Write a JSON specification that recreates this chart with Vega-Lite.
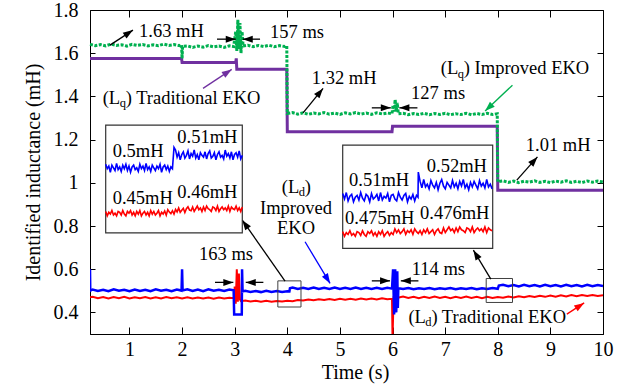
{
  "$schema": "https://vega.github.io/schema/vega-lite/v6.json",
  "width": 513,
  "height": 324,
  "autosize": {"type": "none"},
  "padding": {"left": 90, "top": 10, "right": 18, "bottom": 52},
  "background": "white",
  "config": {
    "font": "Liberation Serif",
    "view": {"stroke": "black", "strokeWidth": 1},
    "axis": {"grid": false}
  },
  "datasets": {
    "lqImp": [{"t":0.25,"v":1.641},{"t":0.35,"v":1.635},{"t":0.45,"v":1.64},{"t":0.55,"v":1.634},{"t":0.65,"v":1.642},{"t":0.75,"v":1.636},{"t":0.85,"v":1.639},{"t":0.95,"v":1.633},{"t":1.05,"v":1.641},{"t":1.15,"v":1.636},{"t":1.25,"v":1.64},{"t":1.35,"v":1.634},{"t":1.45,"v":1.639},{"t":1.55,"v":1.635},{"t":1.65,"v":1.642},{"t":1.75,"v":1.636},{"t":1.85,"v":1.64},{"t":1.95,"v":1.635},{"t":1.99,"v":1.639},{"t":2.0,"v":1.575},{"t":2.01,"v":1.632},{"t":2.1,"v":1.634},{"t":2.2,"v":1.627},{"t":2.3,"v":1.633},{"t":2.4,"v":1.628},{"t":2.5,"v":1.635},{"t":2.6,"v":1.629},{"t":2.7,"v":1.633},{"t":2.8,"v":1.627},{"t":2.9,"v":1.634},{"t":2.98,"v":1.631},{"t":3.02,"v":1.7},{"t":3.04,"v":1.61},{"t":3.06,"v":1.755},{"t":3.08,"v":1.62},{"t":3.1,"v":1.74},{"t":3.12,"v":1.6},{"t":3.14,"v":1.7},{"t":3.16,"v":1.633},{"t":3.25,"v":1.637},{"t":3.35,"v":1.63},{"t":3.45,"v":1.636},{"t":3.55,"v":1.631},{"t":3.65,"v":1.637},{"t":3.75,"v":1.63},{"t":3.85,"v":1.635},{"t":3.95,"v":1.631},{"t":3.99,"v":1.634},{"t":4.0,"v":1.321},{"t":4.1,"v":1.325},{"t":4.2,"v":1.318},{"t":4.3,"v":1.324},{"t":4.4,"v":1.317},{"t":4.5,"v":1.323},{"t":4.6,"v":1.319},{"t":4.7,"v":1.325},{"t":4.8,"v":1.318},{"t":4.9,"v":1.323},{"t":5.0,"v":1.317},{"t":5.1,"v":1.324},{"t":5.2,"v":1.319},{"t":5.3,"v":1.325},{"t":5.4,"v":1.318},{"t":5.5,"v":1.323},{"t":5.6,"v":1.317},{"t":5.7,"v":1.324},{"t":5.8,"v":1.319},{"t":5.9,"v":1.323},{"t":5.99,"v":1.32},{"t":6.01,"v":1.36},{"t":6.03,"v":1.33},{"t":6.05,"v":1.385},{"t":6.07,"v":1.33},{"t":6.09,"v":1.37},{"t":6.11,"v":1.32},{"t":6.2,"v":1.322},{"t":6.3,"v":1.315},{"t":6.4,"v":1.321},{"t":6.5,"v":1.316},{"t":6.6,"v":1.322},{"t":6.7,"v":1.315},{"t":6.8,"v":1.321},{"t":6.9,"v":1.316},{"t":7.0,"v":1.322},{"t":7.1,"v":1.315},{"t":7.2,"v":1.32},{"t":7.3,"v":1.316},{"t":7.4,"v":1.322},{"t":7.5,"v":1.315},{"t":7.6,"v":1.321},{"t":7.7,"v":1.316},{"t":7.8,"v":1.322},{"t":7.9,"v":1.316},{"t":7.99,"v":1.32},{"t":8.0,"v":1.005},{"t":8.1,"v":1.009},{"t":8.2,"v":1.002},{"t":8.3,"v":1.008},{"t":8.4,"v":1.001},{"t":8.5,"v":1.007},{"t":8.6,"v":1.003},{"t":8.7,"v":1.009},{"t":8.8,"v":1.002},{"t":8.9,"v":1.007},{"t":9.0,"v":1.001},{"t":9.1,"v":1.008},{"t":9.2,"v":1.003},{"t":9.3,"v":1.009},{"t":9.4,"v":1.002},{"t":9.5,"v":1.007},{"t":9.6,"v":1.001},{"t":9.7,"v":1.008},{"t":9.8,"v":1.003},{"t":9.9,"v":1.008},{"t":10.0,"v":1.004}],
    "lqTrad": [{"t":0.25,"v":1.576},{"t":1.99,"v":1.576},{"t":2.0,"v":1.557},{"t":3.02,"v":1.557},{"t":3.03,"v":1.576},{"t":3.04,"v":1.526},{"t":3.99,"v":1.526},{"t":4.0,"v":1.236},{"t":5.99,"v":1.236},{"t":6.0,"v":1.262},{"t":7.99,"v":1.262},{"t":8.0,"v":0.966},{"t":10.0,"v":0.966}],
    "ldImp": [{"t":0.25,"v":0.6},{"t":0.255,"v":0.5},{"t":0.3,"v":0.506},{"t":0.4,"v":0.499},{"t":0.5,"v":0.505},{"t":0.6,"v":0.498},{"t":0.7,"v":0.507},{"t":0.8,"v":0.5},{"t":0.9,"v":0.505},{"t":1.0,"v":0.498},{"t":1.1,"v":0.506},{"t":1.2,"v":0.499},{"t":1.3,"v":0.505},{"t":1.4,"v":0.498},{"t":1.5,"v":0.507},{"t":1.6,"v":0.5},{"t":1.7,"v":0.505},{"t":1.8,"v":0.498},{"t":1.9,"v":0.506},{"t":1.99,"v":0.501},{"t":2.0,"v":0.6},{"t":2.01,"v":0.502},{"t":2.1,"v":0.507},{"t":2.2,"v":0.499},{"t":2.3,"v":0.506},{"t":2.4,"v":0.498},{"t":2.5,"v":0.507},{"t":2.6,"v":0.5},{"t":2.7,"v":0.505},{"t":2.8,"v":0.499},{"t":2.9,"v":0.506},{"t":2.98,"v":0.502},{"t":2.99,"v":0.39},{"t":3.135,"v":0.39},{"t":3.14,"v":0.6},{"t":3.15,"v":0.497},{"t":3.2,"v":0.5},{"t":3.3,"v":0.495},{"t":3.4,"v":0.499},{"t":3.5,"v":0.494},{"t":3.6,"v":0.5},{"t":3.7,"v":0.495},{"t":3.8,"v":0.499},{"t":3.9,"v":0.495},{"t":4.0,"v":0.498},{"t":4.04,"v":0.497},{"t":4.05,"v":0.512},{"t":4.1,"v":0.515},{"t":4.2,"v":0.508},{"t":4.3,"v":0.514},{"t":4.4,"v":0.509},{"t":4.5,"v":0.515},{"t":4.6,"v":0.508},{"t":4.7,"v":0.514},{"t":4.8,"v":0.509},{"t":4.9,"v":0.515},{"t":5.0,"v":0.508},{"t":5.1,"v":0.514},{"t":5.2,"v":0.509},{"t":5.3,"v":0.515},{"t":5.4,"v":0.508},{"t":5.5,"v":0.514},{"t":5.6,"v":0.509},{"t":5.7,"v":0.514},{"t":5.8,"v":0.508},{"t":5.9,"v":0.514},{"t":5.99,"v":0.51},{"t":6.01,"v":0.6},{"t":6.03,"v":0.39},{"t":6.05,"v":0.6},{"t":6.07,"v":0.4},{"t":6.09,"v":0.59},{"t":6.1,"v":0.42},{"t":6.11,"v":0.512},{"t":6.2,"v":0.508},{"t":6.3,"v":0.513},{"t":6.4,"v":0.507},{"t":6.5,"v":0.512},{"t":6.6,"v":0.508},{"t":6.7,"v":0.513},{"t":6.8,"v":0.507},{"t":6.9,"v":0.512},{"t":7.0,"v":0.508},{"t":7.1,"v":0.513},{"t":7.2,"v":0.507},{"t":7.3,"v":0.512},{"t":7.4,"v":0.508},{"t":7.5,"v":0.513},{"t":7.6,"v":0.507},{"t":7.7,"v":0.512},{"t":7.8,"v":0.508},{"t":7.9,"v":0.513},{"t":8.0,"v":0.509},{"t":8.02,"v":0.524},{"t":8.1,"v":0.528},{"t":8.2,"v":0.521},{"t":8.3,"v":0.527},{"t":8.4,"v":0.52},{"t":8.5,"v":0.528},{"t":8.6,"v":0.521},{"t":8.7,"v":0.527},{"t":8.8,"v":0.52},{"t":8.9,"v":0.528},{"t":9.0,"v":0.521},{"t":9.1,"v":0.527},{"t":9.2,"v":0.52},{"t":9.3,"v":0.528},{"t":9.4,"v":0.521},{"t":9.5,"v":0.527},{"t":9.6,"v":0.52},{"t":9.7,"v":0.528},{"t":9.8,"v":0.521},{"t":9.9,"v":0.527},{"t":10.0,"v":0.522}],
    "ldTrad": [{"t":0.25,"v":0.47},{"t":0.3,"v":0.472},{"t":0.4,"v":0.466},{"t":0.5,"v":0.471},{"t":0.6,"v":0.465},{"t":0.7,"v":0.471},{"t":0.8,"v":0.466},{"t":0.9,"v":0.472},{"t":1.0,"v":0.465},{"t":1.1,"v":0.47},{"t":1.2,"v":0.466},{"t":1.3,"v":0.471},{"t":1.4,"v":0.465},{"t":1.5,"v":0.47},{"t":1.6,"v":0.465},{"t":1.7,"v":0.471},{"t":1.8,"v":0.466},{"t":1.9,"v":0.47},{"t":2.0,"v":0.465},{"t":2.1,"v":0.47},{"t":2.2,"v":0.464},{"t":2.3,"v":0.469},{"t":2.4,"v":0.464},{"t":2.5,"v":0.469},{"t":2.6,"v":0.463},{"t":2.7,"v":0.469},{"t":2.8,"v":0.464},{"t":2.9,"v":0.468},{"t":2.99,"v":0.466},{"t":3.0,"v":0.52},{"t":3.02,"v":0.44},{"t":3.04,"v":0.6},{"t":3.06,"v":0.45},{"t":3.08,"v":0.58},{"t":3.1,"v":0.46},{"t":3.12,"v":0.452},{"t":3.2,"v":0.455},{"t":3.3,"v":0.45},{"t":3.4,"v":0.454},{"t":3.5,"v":0.449},{"t":3.6,"v":0.454},{"t":3.7,"v":0.449},{"t":3.8,"v":0.453},{"t":3.9,"v":0.45},{"t":4.0,"v":0.454},{"t":4.1,"v":0.452},{"t":4.2,"v":0.457},{"t":4.3,"v":0.455},{"t":4.4,"v":0.46},{"t":4.5,"v":0.456},{"t":4.6,"v":0.461},{"t":4.7,"v":0.457},{"t":4.8,"v":0.462},{"t":4.9,"v":0.458},{"t":5.0,"v":0.463},{"t":5.1,"v":0.459},{"t":5.2,"v":0.463},{"t":5.3,"v":0.459},{"t":5.4,"v":0.464},{"t":5.5,"v":0.46},{"t":5.6,"v":0.464},{"t":5.7,"v":0.46},{"t":5.8,"v":0.465},{"t":5.9,"v":0.461},{"t":5.99,"v":0.463},{"t":6.0,"v":0.28},{"t":6.02,"v":0.47},{"t":6.1,"v":0.468},{"t":6.2,"v":0.473},{"t":6.3,"v":0.467},{"t":6.4,"v":0.472},{"t":6.5,"v":0.466},{"t":6.6,"v":0.472},{"t":6.7,"v":0.467},{"t":6.8,"v":0.473},{"t":6.9,"v":0.467},{"t":7.0,"v":0.472},{"t":7.1,"v":0.466},{"t":7.2,"v":0.472},{"t":7.3,"v":0.467},{"t":7.4,"v":0.473},{"t":7.5,"v":0.467},{"t":7.6,"v":0.472},{"t":7.7,"v":0.466},{"t":7.8,"v":0.472},{"t":7.9,"v":0.467},{"t":8.0,"v":0.471},{"t":8.1,"v":0.468},{"t":8.2,"v":0.474},{"t":8.3,"v":0.469},{"t":8.4,"v":0.475},{"t":8.5,"v":0.47},{"t":8.6,"v":0.476},{"t":8.7,"v":0.471},{"t":8.8,"v":0.477},{"t":8.9,"v":0.472},{"t":9.0,"v":0.478},{"t":9.1,"v":0.473},{"t":9.2,"v":0.479},{"t":9.3,"v":0.474},{"t":9.4,"v":0.48},{"t":9.5,"v":0.475},{"t":9.6,"v":0.48},{"t":9.7,"v":0.476},{"t":9.8,"v":0.481},{"t":9.9,"v":0.476},{"t":10.0,"v":0.48}],
    "in1Blue": [{"t":3.82,"v":0.502},{"t":3.825,"v":0.497},{"t":3.83,"v":0.5},{"t":3.835,"v":0.493},{"t":3.84,"v":0.501},{"t":3.845,"v":0.498},{"t":3.85,"v":0.495},{"t":3.855,"v":0.503},{"t":3.86,"v":0.496},{"t":3.865,"v":0.499},{"t":3.87,"v":0.494},{"t":3.875,"v":0.501},{"t":3.88,"v":0.497},{"t":3.885,"v":0.502},{"t":3.89,"v":0.495},{"t":3.895,"v":0.5},{"t":3.9,"v":0.493},{"t":3.905,"v":0.499},{"t":3.91,"v":0.501},{"t":3.915,"v":0.496},{"t":3.92,"v":0.498},{"t":3.925,"v":0.494},{"t":3.93,"v":0.502},{"t":3.935,"v":0.497},{"t":3.94,"v":0.5},{"t":3.945,"v":0.495},{"t":3.95,"v":0.503},{"t":3.955,"v":0.496},{"t":3.96,"v":0.499},{"t":3.965,"v":0.494},{"t":3.97,"v":0.501},{"t":3.975,"v":0.498},{"t":3.98,"v":0.495},{"t":3.985,"v":0.5},{"t":3.99,"v":0.497},{"t":3.995,"v":0.502},{"t":4.0,"v":0.493},{"t":4.005,"v":0.499},{"t":4.01,"v":0.501},{"t":4.015,"v":0.496},{"t":4.02,"v":0.5},{"t":4.025,"v":0.494},{"t":4.03,"v":0.499},{"t":4.035,"v":0.497},{"t":4.04,"v":0.521},{"t":4.045,"v":0.518},{"t":4.05,"v":0.51},{"t":4.055,"v":0.515},{"t":4.06,"v":0.507},{"t":4.065,"v":0.513},{"t":4.07,"v":0.516},{"t":4.075,"v":0.509},{"t":4.08,"v":0.512},{"t":4.085,"v":0.517},{"t":4.09,"v":0.508},{"t":4.095,"v":0.514},{"t":4.1,"v":0.511},{"t":4.105,"v":0.518},{"t":4.11,"v":0.509},{"t":4.115,"v":0.513},{"t":4.12,"v":0.507},{"t":4.125,"v":0.515},{"t":4.13,"v":0.512},{"t":4.135,"v":0.51},{"t":4.14,"v":0.516},{"t":4.145,"v":0.508},{"t":4.15,"v":0.514},{"t":4.155,"v":0.517},{"t":4.16,"v":0.509},{"t":4.165,"v":0.511},{"t":4.17,"v":0.515},{"t":4.175,"v":0.507},{"t":4.18,"v":0.513},{"t":4.185,"v":0.516},{"t":4.19,"v":0.51},{"t":4.195,"v":0.512},{"t":4.2,"v":0.508},{"t":4.205,"v":0.518},{"t":4.21,"v":0.511},{"t":4.215,"v":0.514},{"t":4.22,"v":0.509},{"t":4.225,"v":0.516},{"t":4.23,"v":0.507},{"t":4.235,"v":0.513},{"t":4.24,"v":0.515},{"t":4.245,"v":0.51},{"t":4.25,"v":0.517},{"t":4.255,"v":0.508},{"t":4.26,"v":0.512}],
    "in1Red": [{"t":3.82,"v":0.449},{"t":3.825,"v":0.444},{"t":3.83,"v":0.448},{"t":3.835,"v":0.446},{"t":3.84,"v":0.45},{"t":3.845,"v":0.445},{"t":3.85,"v":0.447},{"t":3.855,"v":0.444},{"t":3.86,"v":0.449},{"t":3.865,"v":0.448},{"t":3.87,"v":0.445},{"t":3.875,"v":0.45},{"t":3.88,"v":0.446},{"t":3.885,"v":0.444},{"t":3.89,"v":0.449},{"t":3.895,"v":0.447},{"t":3.9,"v":0.45},{"t":3.905,"v":0.445},{"t":3.91,"v":0.448},{"t":3.915,"v":0.444},{"t":3.92,"v":0.449},{"t":3.925,"v":0.446},{"t":3.93,"v":0.45},{"t":3.935,"v":0.444},{"t":3.94,"v":0.447},{"t":3.945,"v":0.449},{"t":3.95,"v":0.445},{"t":3.955,"v":0.448},{"t":3.96,"v":0.444},{"t":3.965,"v":0.45},{"t":3.97,"v":0.446},{"t":3.975,"v":0.449},{"t":3.98,"v":0.445},{"t":3.985,"v":0.447},{"t":3.99,"v":0.45},{"t":3.995,"v":0.444},{"t":4.0,"v":0.448},{"t":4.005,"v":0.446},{"t":4.01,"v":0.4495},{"t":4.015,"v":0.4448},{"t":4.02,"v":0.451},{"t":4.025,"v":0.4483},{"t":4.03,"v":0.4465},{"t":4.035,"v":0.4498},{"t":4.04,"v":0.446},{"t":4.045,"v":0.4513},{"t":4.05,"v":0.4485},{"t":4.055,"v":0.4528},{"t":4.06,"v":0.448},{"t":4.065,"v":0.4503},{"t":4.07,"v":0.4525},{"t":4.075,"v":0.4478},{"t":4.08,"v":0.452},{"t":4.085,"v":0.4543},{"t":4.09,"v":0.4505},{"t":4.095,"v":0.4498},{"t":4.1,"v":0.454},{"t":4.105,"v":0.449},{"t":4.11,"v":0.452},{"t":4.115,"v":0.455},{"t":4.12,"v":0.451},{"t":4.125,"v":0.453},{"t":4.13,"v":0.449},{"t":4.135,"v":0.454},{"t":4.14,"v":0.45},{"t":4.145,"v":0.455},{"t":4.15,"v":0.452},{"t":4.155,"v":0.451},{"t":4.16,"v":0.449},{"t":4.165,"v":0.454},{"t":4.17,"v":0.453},{"t":4.175,"v":0.45},{"t":4.18,"v":0.455},{"t":4.185,"v":0.449},{"t":4.19,"v":0.452},{"t":4.195,"v":0.454},{"t":4.2,"v":0.451},{"t":4.205,"v":0.453},{"t":4.21,"v":0.45},{"t":4.215,"v":0.455},{"t":4.22,"v":0.449},{"t":4.225,"v":0.454},{"t":4.23,"v":0.452},{"t":4.235,"v":0.451},{"t":4.24,"v":0.455},{"t":4.245,"v":0.45},{"t":4.25,"v":0.453},{"t":4.255,"v":0.449},{"t":4.26,"v":0.454}],
    "in2Blue": [{"t":7.78,"v":0.505},{"t":7.786,"v":0.499},{"t":7.792,"v":0.506},{"t":7.798,"v":0.497},{"t":7.804,"v":0.502},{"t":7.81,"v":0.504},{"t":7.816,"v":0.496},{"t":7.822,"v":0.501},{"t":7.828,"v":0.503},{"t":7.834,"v":0.498},{"t":7.84,"v":0.506},{"t":7.846,"v":0.5},{"t":7.852,"v":0.497},{"t":7.858,"v":0.504},{"t":7.864,"v":0.502},{"t":7.87,"v":0.496},{"t":7.876,"v":0.505},{"t":7.882,"v":0.499},{"t":7.888,"v":0.501},{"t":7.894,"v":0.504},{"t":7.9,"v":0.497},{"t":7.906,"v":0.506},{"t":7.912,"v":0.498},{"t":7.918,"v":0.502},{"t":7.924,"v":0.5},{"t":7.93,"v":0.505},{"t":7.936,"v":0.496},{"t":7.942,"v":0.503},{"t":7.948,"v":0.504},{"t":7.954,"v":0.499},{"t":7.96,"v":0.497},{"t":7.966,"v":0.506},{"t":7.972,"v":0.501},{"t":7.978,"v":0.498},{"t":7.984,"v":0.503},{"t":7.99,"v":0.505},{"t":7.996,"v":0.496},{"t":8.002,"v":0.502},{"t":8.008,"v":0.499},{"t":8.014,"v":0.504},{"t":8.02,"v":0.497},{"t":8.026,"v":0.503},{"t":8.031,"v":0.501},{"t":8.032,"v":0.528},{"t":8.038,"v":0.518},{"t":8.044,"v":0.511},{"t":8.05,"v":0.52},{"t":8.056,"v":0.512},{"t":8.062,"v":0.515},{"t":8.068,"v":0.51},{"t":8.074,"v":0.519},{"t":8.08,"v":0.514},{"t":8.086,"v":0.511},{"t":8.092,"v":0.517},{"t":8.098,"v":0.509},{"t":8.104,"v":0.516},{"t":8.11,"v":0.52},{"t":8.116,"v":0.513},{"t":8.122,"v":0.51},{"t":8.128,"v":0.517},{"t":8.134,"v":0.514},{"t":8.14,"v":0.511},{"t":8.146,"v":0.519},{"t":8.152,"v":0.512},{"t":8.158,"v":0.516},{"t":8.164,"v":0.51},{"t":8.17,"v":0.518},{"t":8.176,"v":0.513},{"t":8.182,"v":0.52},{"t":8.188,"v":0.511},{"t":8.194,"v":0.515},{"t":8.2,"v":0.509},{"t":8.206,"v":0.517},{"t":8.212,"v":0.512},{"t":8.218,"v":0.518},{"t":8.224,"v":0.514},{"t":8.23,"v":0.51},{"t":8.236,"v":0.519},{"t":8.242,"v":0.513},{"t":8.248,"v":0.516},{"t":8.254,"v":0.511},{"t":8.26,"v":0.52},{"t":8.266,"v":0.512},{"t":8.272,"v":0.515},{"t":8.278,"v":0.51}],
    "in2Red": [{"t":7.78,"v":0.464},{"t":7.786,"v":0.459},{"t":7.792,"v":0.463},{"t":7.798,"v":0.461},{"t":7.804,"v":0.465},{"t":7.81,"v":0.46},{"t":7.816,"v":0.462},{"t":7.822,"v":0.459},{"t":7.828,"v":0.464},{"t":7.834,"v":0.463},{"t":7.84,"v":0.46},{"t":7.846,"v":0.465},{"t":7.852,"v":0.461},{"t":7.858,"v":0.459},{"t":7.864,"v":0.464},{"t":7.87,"v":0.462},{"t":7.876,"v":0.465},{"t":7.882,"v":0.46},{"t":7.888,"v":0.463},{"t":7.894,"v":0.459},{"t":7.9,"v":0.464},{"t":7.906,"v":0.461},{"t":7.912,"v":0.465},{"t":7.918,"v":0.459},{"t":7.924,"v":0.462},{"t":7.93,"v":0.464},{"t":7.936,"v":0.46},{"t":7.942,"v":0.463},{"t":7.948,"v":0.461},{"t":7.954,"v":0.467},{"t":7.96,"v":0.463},{"t":7.966,"v":0.466},{"t":7.972,"v":0.462},{"t":7.978,"v":0.464},{"t":7.984,"v":0.467},{"t":7.99,"v":0.461},{"t":7.996,"v":0.465},{"t":8.002,"v":0.463},{"t":8.008,"v":0.466},{"t":8.014,"v":0.461},{"t":8.02,"v":0.467},{"t":8.026,"v":0.464},{"t":8.032,"v":0.462},{"t":8.038,"v":0.465},{"t":8.044,"v":0.461},{"t":8.05,"v":0.466},{"t":8.056,"v":0.463},{"t":8.062,"v":0.467},{"t":8.068,"v":0.462},{"t":8.074,"v":0.464},{"t":8.08,"v":0.466},{"t":8.086,"v":0.461},{"t":8.092,"v":0.465},{"t":8.098,"v":0.467},{"t":8.104,"v":0.463},{"t":8.11,"v":0.462},{"t":8.116,"v":0.468},{"t":8.122,"v":0.463},{"t":8.128,"v":0.466},{"t":8.134,"v":0.469},{"t":8.14,"v":0.465},{"t":8.146,"v":0.467},{"t":8.152,"v":0.463},{"t":8.158,"v":0.468},{"t":8.164,"v":0.464},{"t":8.17,"v":0.469},{"t":8.176,"v":0.466},{"t":8.182,"v":0.465},{"t":8.188,"v":0.463},{"t":8.194,"v":0.468},{"t":8.2,"v":0.467},{"t":8.206,"v":0.464},{"t":8.212,"v":0.469},{"t":8.218,"v":0.463},{"t":8.224,"v":0.466},{"t":8.23,"v":0.468},{"t":8.236,"v":0.465},{"t":8.242,"v":0.467},{"t":8.248,"v":0.464},{"t":8.254,"v":0.469},{"t":8.26,"v":0.463},{"t":8.266,"v":0.468},{"t":8.272,"v":0.466},{"t":8.278,"v":0.465}],
    "boxes": [{"t":3.82,"t2":4.26,"v":0.425,"v2":0.546},{"t":7.78,"t2":8.28,"v":0.446,"v2":0.557}],
    "arrows": [
      {"t":0.63,"v":1.6375,"t2":1.067,"v2":1.707,"c":"k"},
      {"t":2.664,"v":1.665,"t2":3.02,"v2":1.665,"c":"k"},
      {"t":3.482,"v":1.665,"t2":3.153,"v2":1.665,"c":"k"},
      {"t":2.398,"v":1.437,"t2":2.944,"v2":1.525,"c":"p"},
      {"t":4.299,"v":1.324,"t2":4.68,"v2":1.437,"c":"k"},
      {"t":5.606,"v":1.347,"t2":5.967,"v2":1.347,"c":"k"},
      {"t":6.473,"v":1.347,"t2":6.13,"v2":1.347,"c":"k"},
      {"t":8.279,"v":1.452,"t2":7.759,"v2":1.332,"c":"g"},
      {"t":8.362,"v":1.0125,"t2":8.754,"v2":1.12,"c":"k"},
      {"t":4.337,"v":0.727,"t2":4.813,"v2":0.534,"c":"b"},
      {"t":3.957,"v":0.545,"t2":3.145,"v2":0.827,"c":"k"},
      {"t":2.626,"v":0.539,"t2":2.974,"v2":0.539,"c":"k"},
      {"t":3.545,"v":0.539,"t2":3.21,"v2":0.539,"c":"k"},
      {"t":5.606,"v":0.546,"t2":5.953,"v2":0.546,"c":"k"},
      {"t":6.492,"v":0.546,"t2":6.157,"v2":0.546,"c":"k"},
      {"t":7.868,"v":0.554,"t2":7.537,"v2":0.688,"c":"k"},
      {"t":9.313,"v":0.392,"t2":9.642,"v2":0.444,"c":"r"}
    ],
    "labels": [
      {"t":1.182,"v":1.704,"label":"1.63 mH"},
      {"t":3.672,"v":1.699,"label":"157 ms"},
      {"t":0.491,"v":1.391,"label":"(L"},
      {"t":0.929,"v":1.391,"label":") Traditional EKO"},
      {"t":4.465,"v":1.483,"label":"1.32 mH"},
      {"t":6.353,"v":1.414,"label":"127 ms"},
      {"t":6.917,"v":1.53,"label":"(L"},
      {"t":7.355,"v":1.53,"label":") Improved EKO"},
      {"t":8.533,"v":1.175,"label":"1.01 mH"},
      {"t":0.682,"v":1.147,"label":"0.5mH"},
      {"t":1.91,"v":1.213,"label":"0.51mH"},
      {"t":0.682,"v":0.931,"label":"0.45mH"},
      {"t":1.91,"v":0.956,"label":"0.46mH"},
      {"t":5.174,"v":1.0125,"label":"0.51mH"},
      {"t":6.651,"v":1.077,"label":"0.52mH"},
      {"t":5.098,"v":0.835,"label":"0.475mH"},
      {"t":6.524,"v":0.858,"label":"0.476mH"},
      {"t":3.895,"v":0.9815,"label":"(L"},
      {"t":4.332,"v":0.9815,"label":")"},
      {"t":2.322,"v":0.67,"label":"163 ms"},
      {"t":6.366,"v":0.599,"label":"114 ms"},
      {"t":6.301,"v":0.377,"label":"(L"},
      {"t":6.739,"v":0.377,"label":") Traditional EKO"}
    ],
    "labelsCentered": [
      {"t":4.166,"v":0.8815,"label":"Improved"},
      {"t":4.166,"v":0.789,"label":"EKO"}
    ],
    "subscripts": [
      {"t":0.815,"v":1.368,"label":"q"},
      {"t":7.24,"v":1.506,"label":"q"},
      {"t":4.218,"v":0.958,"label":"d"},
      {"t":6.624,"v":0.354,"label":"d"}
    ]
  },
  "layer": [
    {
      "encoding": {
        "x": {"field": "t", "type": "quantitative", "scale": {"domain": [0.25, 10], "nice": false, "zero": false},
              "axis": {"values": [1,2,3,4,5,6,7,8,9,10], "title": "Time (s)", "tickSize": -7, "labelPadding": 12, "titlePadding": 3, "titleX": 265, "labelFlush": false,
                       "labelFont": "Liberation Serif", "labelFontSize": 20, "labelColor": "black", "titleFont": "Liberation Serif", "titleFontSize": 20, "titleFontWeight": "normal", "titleColor": "black", "domainColor": "black", "tickColor": "black", "grid": false}},
        "y": {"field": "v", "type": "quantitative", "scale": {"domain": [0.3, 1.8], "nice": false, "zero": false},
              "axis": {"values": [0.4,0.6,0.8,1,1.2,1.4,1.6,1.8], "format": "~g", "title": "Identified inductance (mH)", "tickSize": -5, "labelPadding": 17, "titlePadding": 10,
                       "labelFont": "Liberation Serif", "labelFontSize": 20, "labelColor": "black", "titleFont": "Liberation Serif", "titleFontSize": 20, "titleFontWeight": "normal", "titleColor": "black", "domainColor": "black", "tickColor": "black", "grid": false}}
      },
      "layer": [
        {"data": {"name": "lqTrad"}, "mark": {"type": "line", "color": "#7030a0", "strokeWidth": 3}},
        {"data": {"name": "lqImp"}, "mark": {"type": "line", "color": "#00b050", "strokeWidth": 3, "strokeDash": [3, 1.5]}},
        {"data": {"name": "ldTrad"}, "mark": {"type": "line", "color": "#ff0000", "strokeWidth": 2, "clip": true}},
        {"data": {"name": "ldImp"}, "mark": {"type": "line", "color": "#0000ff", "strokeWidth": 2.5, "clip": true}},
        {"data": {"name": "boxes"}, "mark": {"type": "rect", "fillOpacity": 0, "stroke": "#404040", "strokeWidth": 1},
         "encoding": {"x2": {"field": "t2"}, "y2": {"field": "v2"}}},
        {"data": {"name": "arrows"}, "mark": {"type": "rule", "strokeWidth": 1.3},
         "encoding": {"x2": {"field": "t2"}, "y2": {"field": "v2"},
                      "color": {"field": "c", "type": "nominal", "legend": null, "scale": {"domain": ["k","p","g","b","r"], "range": ["black","#7030a0","#00b050","#0000ff","#ff0000"]}}}},
        {"data": {"name": "arrows"},
         "transform": [{"calculate": "atan2((datum.t2 - datum.t) * 52.6, (datum.v2 - datum.v) * 216) * 180 / PI", "as": "ang"}],
         "mark": {"type": "point", "shape": "M0,0L-0.7,2L0.7,2Z", "size": 100, "filled": true, "opacity": 1, "strokeWidth": 0},
         "encoding": {"x": {"field": "t2", "type": "quantitative", "title": "Time (s)"},
                      "y": {"field": "v2", "type": "quantitative", "title": "Identified inductance (mH)"},
                      "angle": {"field": "ang", "type": "quantitative", "scale": null},
                      "color": {"field": "c", "type": "nominal", "legend": null, "scale": {"domain": ["k","p","g","b","r"], "range": ["black","#7030a0","#00b050","#0000ff","#ff0000"]}}}},
        {"data": {"name": "labels"}, "mark": {"type": "text", "align": "left", "baseline": "middle", "font": "Liberation Serif", "fontSize": 18.5, "color": "black"},
         "encoding": {"text": {"field": "label"}}},
        {"data": {"name": "labelsCentered"}, "mark": {"type": "text", "align": "center", "baseline": "middle", "font": "Liberation Serif", "fontSize": 18.5, "color": "black"},
         "encoding": {"text": {"field": "label"}}},
        {"data": {"name": "subscripts"}, "mark": {"type": "text", "align": "left", "baseline": "middle", "font": "Liberation Serif", "fontSize": 12.5, "color": "black"},
         "encoding": {"text": {"field": "label"}}}
      ]
    },
    {
      "encoding": {
        "x": {"field": "t", "type": "quantitative", "scale": {"domain": [3.82, 4.26], "range": [15.7, 152.3], "nice": false, "zero": false}, "axis": null},
        "y": {"field": "v", "type": "quantitative", "scale": {"domain": [0.425, 0.546], "range": [222.8, 115.1], "nice": false, "zero": false}, "axis": null}
      },
      "layer": [
        {"data": {"values": [{"t": 3.82, "t2": 4.26, "v": 0.425, "v2": 0.546}]}, "mark": {"type": "rect", "fillOpacity": 0, "stroke": "#333333", "strokeWidth": 1.2},
         "encoding": {"x2": {"field": "t2"}, "y2": {"field": "v2"}}},
        {"data": {"name": "in1Blue"}, "mark": {"type": "line", "color": "#0000ff", "strokeWidth": 1.6}},
        {"data": {"name": "in1Red"}, "mark": {"type": "line", "color": "#ff0000", "strokeWidth": 1.6}}
      ]
    },
    {
      "encoding": {
        "x": {"field": "t", "type": "quantitative", "scale": {"domain": [7.78, 8.28], "range": [252.7, 402.7], "nice": false, "zero": false}, "axis": null},
        "y": {"field": "v", "type": "quantitative", "scale": {"domain": [0.446, 0.557], "range": [238.4, 135.1], "nice": false, "zero": false}, "axis": null}
      },
      "layer": [
        {"data": {"values": [{"t": 7.78, "t2": 8.28, "v": 0.446, "v2": 0.557}]}, "mark": {"type": "rect", "fillOpacity": 0, "stroke": "#333333", "strokeWidth": 1.2},
         "encoding": {"x2": {"field": "t2"}, "y2": {"field": "v2"}}},
        {"data": {"name": "in2Blue"}, "mark": {"type": "line", "color": "#0000ff", "strokeWidth": 1.6}},
        {"data": {"name": "in2Red"}, "mark": {"type": "line", "color": "#ff0000", "strokeWidth": 1.6}}
      ]
    },
    {
      "data": {"values": [{"t": 1, "v": 1}]},
      "mark": {"type": "point", "opacity": 0},
      "encoding": {
        "x": {"field": "t", "type": "quantitative", "scale": {"domain": [0.25, 10], "nice": false, "zero": false},
              "axis": {"orient": "top", "values": [1,2,3,4,5,6,7,8,9,10], "labels": false, "title": null, "tickSize": -7, "domain": false, "tickColor": "black", "grid": false}},
        "y": {"field": "v", "type": "quantitative", "scale": {"domain": [0.3, 1.8], "nice": false, "zero": false},
              "axis": {"orient": "right", "values": [0.4,0.6,0.8,1,1.2,1.4,1.6,1.8], "labels": false, "title": null, "tickSize": -6, "domain": false, "tickColor": "black", "grid": false}}
      }
    }
  ],
  "resolve": {"scale": {"x": "independent", "y": "independent"}}
}
